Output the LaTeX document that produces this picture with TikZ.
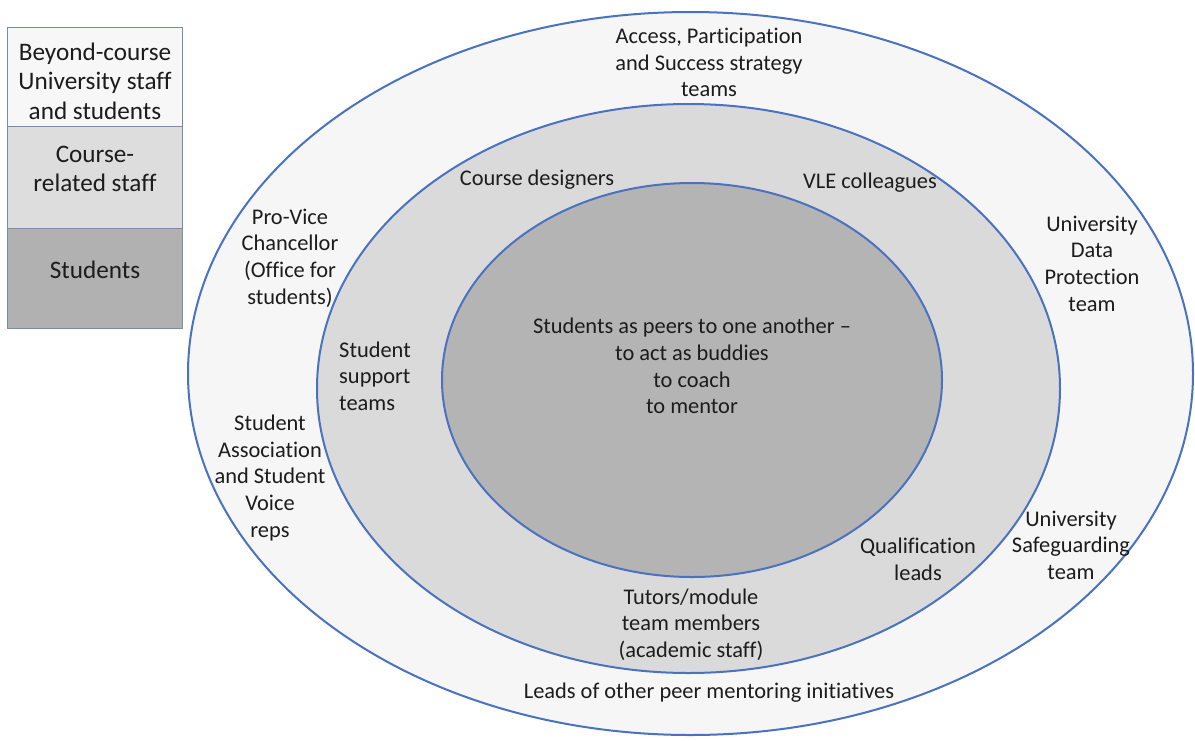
\documentclass[tikz,border=0pt]{standalone}
\usepackage{fontspec}
\setmainfont{Carlito}[Ligatures={NoCommon}]
\definecolor{ringblue}{HTML}{4A72BE}
\definecolor{outerfill}{HTML}{F6F6F6}
\definecolor{midfill}{HTML}{DADADA}
\definecolor{innerfill}{HTML}{B4B4B4}
\definecolor{legA}{HTML}{F7F7F7}
\definecolor{legB}{HTML}{DDDDDD}
\definecolor{legC}{HTML}{B1B1B1}
\definecolor{legline}{HTML}{7C8CA8}
\definecolor{txt}{HTML}{1C1C1C}
\begin{document}
\begin{tikzpicture}[x=1pt,y=-1pt,
  ring/.style={draw=ringblue, line width=2pt},
  lbl/.style={align=center, font=\fontsize{22.4}{26.6}\selectfont, text=txt, inner sep=0pt},
  legtext/.style={align=center, font=\fontsize{25.2}{29.5}\selectfont, text=txt, inner sep=0pt},
  leg/.style={draw=legline, line width=0.9pt}]
\useasboundingbox (0,0) rectangle (1195,740);
\fill[white] (0,0) rectangle (1195,740);
% rings
\draw[ring, fill=outerfill] (690.5,373.5) ellipse [x radius=502.5pt, y radius=361.5pt];
\draw[ring, fill=midfill] (688.5,388.5) ellipse [x radius=371.5pt, y radius=284.5pt];
\draw[ring, fill=innerfill] (692,380) ellipse [x radius=250pt, y radius=197pt];
% legend
\draw[leg, fill=legA] (7,27) rectangle (182,126);
\draw[leg, fill=legB] (7,126) rectangle (182,228);
\draw[leg, fill=legC] (7,228) rectangle (182,328);
\node[legtext] (lbeyond) at (95,81) {Beyond-course\\University staff\\and students};
\node[legtext] (lcourse) at (95,169) {Course-\\related staff};
\node[legtext] (lstud) at (95,270) {Students};
% labels
\node[lbl] (access) at (709,62.5) {Access, Participation\\and Success strategy\\teams};
\node[lbl] (designers) at (537,180) {Course designers};
\node[lbl] (vle) at (870,183) {VLE colleagues};
\node[lbl] (pvc) at (290,258) {Pro-Vice\\Chancellor\\(Office for\\students)};
\node[lbl] (dp) at (1092,263.5) {University\\Data\\Protection\\team};
\node[lbl, align=left] (support) at (375,376) {Student\\support\\teams};
\node[lbl] (assoc) at (270,478) {Student\\Association\\and Student\\Voice\\reps};
\node[lbl] (peers) at (692,366) {Students as peers to one another –\\to act as buddies\\to coach\\to mentor};
\node[lbl] (qual) at (918,559) {Qualification\\leads};
\node[lbl] (safe) at (1071,545) {University\\Safeguarding\\team};
\node[lbl] (tutors) at (691,624.5) {Tutors/module\\team members\\(academic staff)};
\node[lbl] (leads) at (709,693) {Leads of other peer mentoring initiatives};
\end{tikzpicture}
\end{document}
